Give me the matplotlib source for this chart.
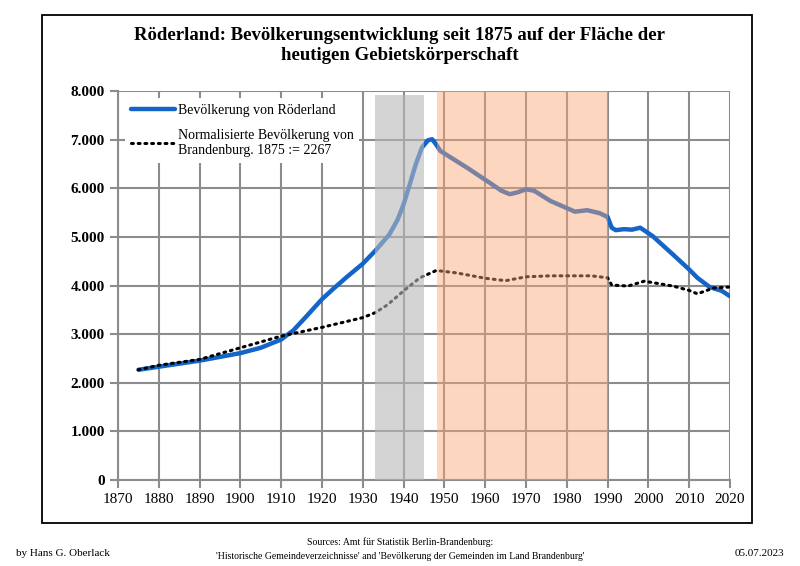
import numpy as np
import matplotlib.pyplot as plt
from matplotlib.patches import Rectangle

plt.rcParams['font.family'] = ['Liberation Serif', 'DejaVu Serif']

# Population of Röderland
years = [1875, 1880, 1890, 1900, 1905, 1910, 1913, 1916, 1920, 1923, 1926,
         1930, 1933, 1936.5, 1938.5, 1940, 1941.5, 1943, 1944.5, 1946, 1947,
         1948, 1949, 1956, 1961, 1964, 1966, 1968, 1970, 1972, 1976, 1982,
         1985, 1988, 1990, 1991, 1992, 1994, 1996, 1998, 2001, 2006, 2010,
         2012, 2015, 2018, 2020]
pop = [2267, 2330, 2455, 2610, 2720, 2890, 3080, 3350, 3720, 3950, 4170,
       4450, 4710, 5050, 5350, 5670, 6080, 6500, 6840, 6990, 7010,
       6900, 6770, 6400, 6120, 5950, 5880, 5920, 5980, 5950, 5740, 5520,
       5550, 5490, 5410, 5190, 5140, 5160, 5150, 5190, 5020, 4640, 4330,
       4160, 3970, 3890, 3780]

# Normalised population of Brandenburg (1875 := 2267)
years_bb = [1875, 1880, 1890, 1900, 1910, 1920, 1930, 1933, 1936, 1940, 1944,
            1948, 1953, 1960, 1965, 1970, 1976, 1986, 1990, 1991, 1995, 1999,
            2006, 2010, 2012, 2014, 2016, 2020]
pop_bb = [2267, 2360, 2480, 2720, 2960, 3140, 3340, 3440, 3600, 3890, 4160,
          4310, 4260, 4150, 4100, 4180, 4200, 4200, 4160, 4010, 3990, 4090,
          3990, 3900, 3830, 3890, 3950, 3970]

xticks = list(range(1870, 2021, 10))
yticks = list(range(0, 8001, 1000))
ytick_labels = ['0'] + ['{:,}'.format(v).replace(',', '.') for v in yticks[1:]]

fig = plt.figure(figsize=(8, 5.66), dpi=100)
ax = fig.add_axes([0.1475, 0.152, 0.765, 0.687])

ax.plot(years, pop, color='#1565c8', lw=3.2, solid_capstyle='round',
        solid_joinstyle='round', zorder=3, label='Bevölkerung von Röderland')
ax.plot(years_bb, pop_bb, color='black', lw=2.2, ls=(0, (0.6, 1.6)),
        dash_capstyle='round', zorder=3,
        label='Normalisierte Bevölkerung von\nBrandenburg. 1875 := 2267')

# shaded periods drawn over the lines, as in the original
ax.axvspan(1933, 1945, ymax=0.99, color='#b8b8b8', alpha=0.6, lw=0, zorder=4)
ax.axvspan(1948.3, 1990, color='#f9a572', alpha=0.45, lw=0, zorder=4)

ax.set_xlim(1870, 2020)
ax.set_ylim(0, 8000)
ax.set_xticks(xticks)
ax.set_yticks(yticks)
ax.set_yticklabels(ytick_labels)
ax.grid(True, color='#8c8c8c', lw=1.5, zorder=1)
ax.set_axisbelow(True)
for s in ['top', 'right']:
    ax.spines[s].set_visible(False)
for s in ['left', 'bottom']:
    ax.spines[s].set_color('#8c8c8c')
    ax.spines[s].set_linewidth(1.5)
ax.tick_params(colors='#8c8c8c', length=6, width=1.5, labelcolor='black')
ax.tick_params(axis='both', labelsize=11)
for lab in ax.get_yticklabels():
    lab.set_fontweight('bold')

leg = ax.legend(loc='upper left', frameon=True, fontsize=10, handlelength=3.2,
                handletextpad=0.2, labelspacing=0.9, borderaxespad=0.5,
                facecolor='white', edgecolor='none', framealpha=1)
leg.set_zorder(5)

fig.text(0.5, 0.92, 'Röderland: Bevölkerungsentwicklung seit 1875 auf der Fläche der\n'
         'heutigen Gebietskörperschaft', ha='center', va='center',
         fontsize=13.5, fontweight='bold', linespacing=1.2)

fig.patches.append(Rectangle((0.0525, 0.076), 0.8875, 0.8975, transform=fig.transFigure,
                             fill=False, edgecolor='black', lw=1.3))

fig.text(0.02, 0.022, 'by Hans G. Oberlack', fontsize=8, va='center')
fig.text(0.5, 0.043, 'Sources: Amt für Statistik Berlin-Brandenburg:', fontsize=7,
         ha='center', va='center')
fig.text(0.5, 0.017, "'Historische Gemeindeverzeichnisse' and 'Bevölkerung der Gemeinden im Land Brandenburg'",
         fontsize=7, ha='center', va='center')
fig.text(0.98, 0.022, '05.07.2023', fontsize=8, ha='right', va='center')

fig.savefig('out.png', dpi=100)
